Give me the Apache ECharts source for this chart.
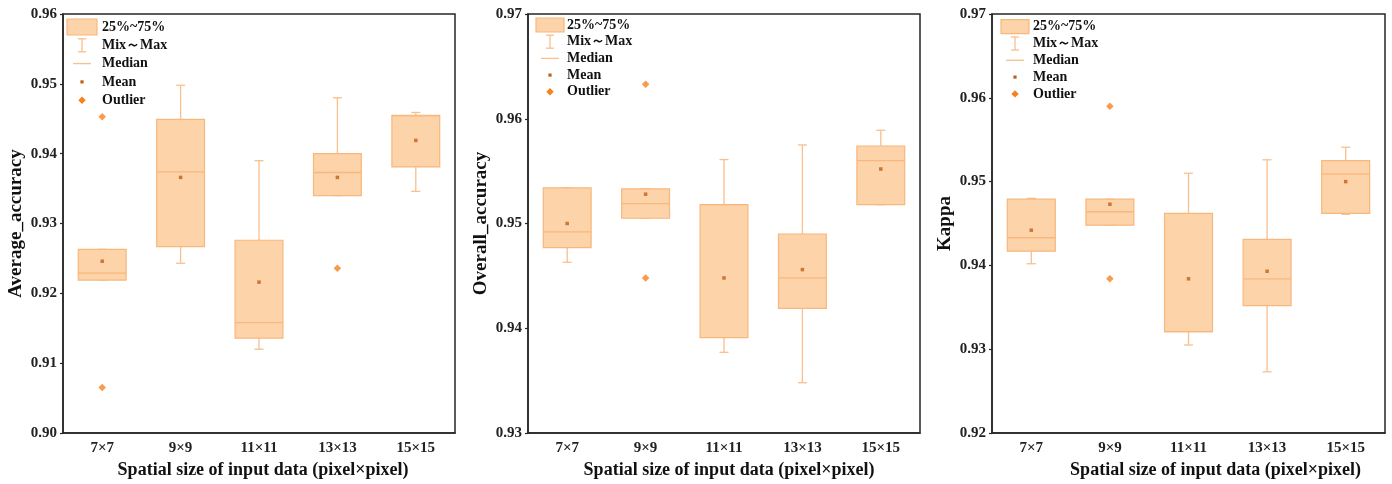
<!DOCTYPE html>
<html>
<head>
<meta charset="utf-8">
<script src="https://cdn.jsdelivr.net/npm/echarts@6/dist/echarts.min.js"></script>
<style>
  html, body { margin: 0; padding: 0; background: #fff; }
  #chart { width: 1392px; height: 484px; }
</style>
</head>
<body>
<div id="chart"></div>
<script>
// Window sizes tested
const categories = ['7×7', '9×9', '11×11', '13×13', '15×15'];

// Each box: [min, Q1, median, Q3, max]
const avgBoxes = [
  [0.9219, 0.9219, 0.9229, 0.9263, 0.9263],
  [0.9243, 0.9267, 0.9374, 0.9449, 0.9498],
  [0.9120, 0.9136, 0.9158, 0.9276, 0.9390],
  [0.9340, 0.9340, 0.9373, 0.9400, 0.9480],
  [0.9346, 0.9381, 0.9454, 0.9455, 0.9459]
];
const avgMeans = [0.9246, 0.9366, 0.9216, 0.9366, 0.9419];
const avgOutliers = [[0, 0.9453], [0, 0.9065], [3, 0.9236]];

const oaBoxes = [
  [0.9463, 0.9477, 0.9492, 0.9534, 0.9534],
  [0.9505, 0.9505, 0.9519, 0.9533, 0.9533],
  [0.9377, 0.9391, 0.9518, 0.9518, 0.9561],
  [0.9348, 0.9419, 0.9448, 0.9490, 0.9575],
  [0.9518, 0.9518, 0.9560, 0.9574, 0.9589]
];
const oaMeans = [0.9500, 0.9528, 0.9448, 0.9456, 0.9552];
const oaOutliers = [[1, 0.9633], [1, 0.9448]];

const kappaBoxes = [
  [0.9402, 0.9417, 0.9433, 0.9479, 0.9480],
  [0.9448, 0.9448, 0.9464, 0.9479, 0.9479],
  [0.9305, 0.9321, 0.9321, 0.9462, 0.9510],
  [0.9273, 0.9352, 0.9384, 0.9431, 0.9526],
  [0.9461, 0.9462, 0.9509, 0.9525, 0.9541]
];
const kappaMeans = [0.9442, 0.9473, 0.9384, 0.9393, 0.9500];
const kappaOutliers = [[1, 0.9590], [1, 0.9384]];

const yTitles = ['Average_accuracy', 'Overall_accuracy', 'Kappa'];
const yRanges = [[0.90, 0.96], [0.93, 0.97], [0.92, 0.97]];
const xTitle = 'Spatial size of input data (pixel×pixel)';
const legendLabels = ['25%~75%', 'Mix～Max', 'Median', 'Mean', 'Outlier'];

const FONT = '"Times New Roman", "Liberation Serif", serif';
const BOX_FILL = '#fdd3aa';
const BOX_EDGE = '#f8b77c';
const WHISKER = '#f9bf8c';
const MEAN_COLOR = '#bf5f1a';
const OUTLIER_COLOR = '#f5821f';
const AXIS_COLOR = '#262626';

const panels = [
  { boxes: avgBoxes, means: avgMeans, outliers: avgOutliers, left: 63, width: 392, titlePad: 8,
    legend: { rectX: 67, textX: 102, y0: 27, step: 18.3, rw: 30, rh: 16 } },
  { boxes: oaBoxes, means: oaMeans, outliers: oaOutliers, left: 528, width: 392, titlePad: 10,
    legend: { rectX: 536, textX: 567, y0: 25, step: 16.7, rw: 28, rh: 14 } },
  { boxes: kappaBoxes, means: kappaMeans, outliers: kappaOutliers, left: 992, width: 393, titlePad: 54,
    legend: { rectX: 1001, textX: 1033, y0: 26.7, step: 16.8, rw: 28, rh: 14 } }
];
const GRID_TOP = 14, GRID_HEIGHT = 419;

function renderBox(params, api) {
  const x = api.value(0);
  const lo = api.coord([x, api.value(1)]);
  const q1 = api.coord([x, api.value(2)]);
  const med = api.coord([x, api.value(3)]);
  const q3 = api.coord([x, api.value(4)]);
  const hi = api.coord([x, api.value(5)]);
  const band = api.size([1, 0])[0];
  const bw = band * 0.61;
  const cap = 9;
  const cx = q1[0];
  const left = cx - bw / 2;
  const wStyle = { stroke: WHISKER, lineWidth: 1.3 };
  return {
    type: 'group',
    children: [
      { type: 'line', shape: { x1: cx, y1: lo[1], x2: cx, y2: q1[1] }, style: wStyle },
      { type: 'line', shape: { x1: cx, y1: q3[1], x2: cx, y2: hi[1] }, style: wStyle },
      { type: 'line', shape: { x1: cx - cap / 2, y1: lo[1], x2: cx + cap / 2, y2: lo[1] }, style: wStyle },
      { type: 'line', shape: { x1: cx - cap / 2, y1: hi[1], x2: cx + cap / 2, y2: hi[1] }, style: wStyle },
      { type: 'rect', shape: { x: left, y: q3[1], width: bw, height: q1[1] - q3[1] },
        style: { fill: BOX_FILL, stroke: BOX_EDGE, lineWidth: 1.2 } },
      { type: 'line', shape: { x1: left, y1: med[1], x2: left + bw, y2: med[1] },
        style: { stroke: BOX_EDGE, lineWidth: 1.3 } }
    ]
  };
}

const grid = [], xAxis = [], yAxis = [], series = [], graphics = [];

panels.forEach((p, k) => {
  grid.push({ left: p.left, top: GRID_TOP, width: p.width, height: GRID_HEIGHT,
    show: true, borderColor: AXIS_COLOR, borderWidth: 1.5, backgroundColor: 'transparent' });

  xAxis.push({
    type: 'category', gridIndex: k, data: categories, boundaryGap: true,
    name: xTitle, nameLocation: 'middle', nameGap: 25,
    nameTextStyle: { fontFamily: FONT, fontWeight: 'bold', fontSize: 18, color: '#111', padding: [0, 0, 0, p.titlePad] },
    axisLine: { lineStyle: { color: AXIS_COLOR, width: 1.5 } },
    axisTick: { alignWithLabel: true, length: 4, lineStyle: { color: AXIS_COLOR, width: 1.2 } },
    axisLabel: { fontFamily: FONT, fontWeight: 'bold', fontSize: 15, color: '#222', margin: 8 },
    splitLine: { show: false }
  });

  const [mn, mx] = yRanges[k];
  yAxis.push({
    type: 'value', gridIndex: k, min: mn, max: mx, interval: 0.01,
    name: yTitles[k], nameLocation: 'middle', nameGap: 37,
    nameTextStyle: { fontFamily: FONT, fontWeight: 'bold', fontSize: 19, color: '#111' },
    axisLine: { show: true, lineStyle: { color: AXIS_COLOR, width: 1.5 } },
    axisTick: { show: true, length: 3, lineStyle: { color: AXIS_COLOR, width: 1.2 } },
    axisLabel: { fontFamily: FONT, fontWeight: 'bold', fontSize: 15, color: '#222', margin: 6,
      formatter: v => v.toFixed(2) },
    splitLine: { show: false }
  });

  series.push({
    type: 'custom', xAxisIndex: k, yAxisIndex: k,
    renderItem: renderBox,
    encode: { x: 0, y: [1, 2, 3, 4, 5] },
    data: p.boxes.map((b, i) => [i].concat(b)),
    z: 2
  });
  series.push({
    type: 'scatter', xAxisIndex: k, yAxisIndex: k,
    symbol: 'rect', symbolSize: 3.5,
    itemStyle: { color: MEAN_COLOR },
    data: p.means.map((v, i) => [i, v]),
    z: 4
  });
  series.push({
    type: 'scatter', xAxisIndex: k, yAxisIndex: k,
    symbol: 'diamond', symbolSize: 7.5,
    itemStyle: { color: OUTLIER_COLOR },
    data: p.outliers,
    z: 4
  });

  // legend key drawn in the upper-left corner of each panel
  const L = p.legend;
  const cx = L.rectX + L.rw / 2;
  const ys = legendLabels.map((_, j) => L.y0 + j * L.step);
  graphics.push(
    { type: 'rect', shape: { x: L.rectX, y: ys[0] - L.rh / 2, width: L.rw, height: L.rh },
      style: { fill: BOX_FILL, stroke: BOX_EDGE, lineWidth: 1.2 } },
    { type: 'line', shape: { x1: cx, y1: ys[1] - 6.5, x2: cx, y2: ys[1] + 6.5 }, style: { stroke: WHISKER, lineWidth: 1.3 } },
    { type: 'line', shape: { x1: cx - 4, y1: ys[1] - 6.5, x2: cx + 4, y2: ys[1] - 6.5 }, style: { stroke: WHISKER, lineWidth: 1.3 } },
    { type: 'line', shape: { x1: cx - 4, y1: ys[1] + 6.5, x2: cx + 4, y2: ys[1] + 6.5 }, style: { stroke: WHISKER, lineWidth: 1.3 } },
    { type: 'line', shape: { x1: cx - 9, y1: ys[2], x2: cx + 9, y2: ys[2] }, style: { stroke: WHISKER, lineWidth: 1.3 } },
    { type: 'rect', shape: { x: cx - 1.6, y: ys[3] - 1.6, width: 3.2, height: 3.2 }, style: { fill: MEAN_COLOR } },
    { type: 'polygon', shape: { points: [[cx, ys[4] - 3.7], [cx + 3.7, ys[4]], [cx, ys[4] + 3.7], [cx - 3.7, ys[4]]] },
      style: { fill: OUTLIER_COLOR } }
  );
  legendLabels.forEach((t, j) => {
    graphics.push({ type: 'text', x: L.textX, y: ys[j],
      style: { text: t, fontFamily: FONT, fontWeight: 'bold', fontSize: 14, fill: '#111', verticalAlign: 'middle', align: 'left' } });
  });
});

const chart = echarts.init(document.getElementById('chart'), null, { renderer: 'canvas' });
chart.setOption({
  backgroundColor: '#ffffff',
  animation: false,
  grid, xAxis, yAxis, series,
  graphic: { elements: graphics }
});
</script>
</body>
</html>
